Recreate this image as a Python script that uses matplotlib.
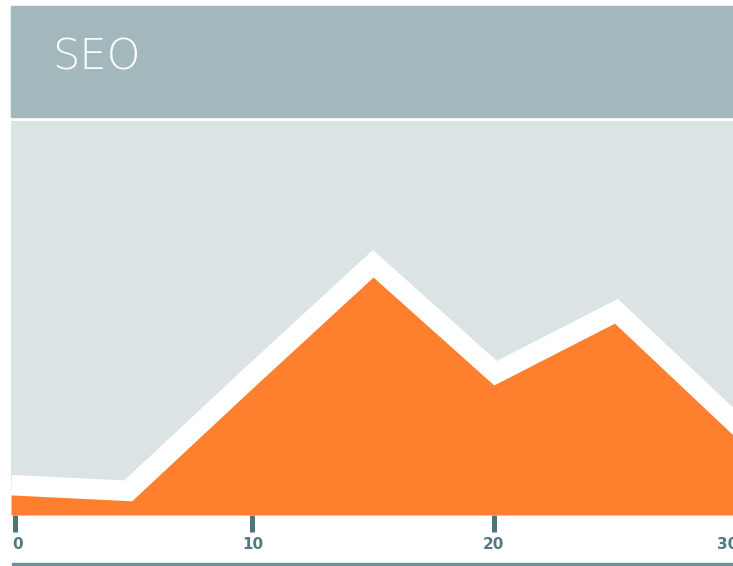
import matplotlib.pyplot as plt
import matplotlib.patches as mpatches
import matplotlib.transforms as mtrans

# data
days = [0, 5, 10, 15, 20, 25, 30]
seo = [5.1, 3.6, 32.2, 60.4, 33.0, 48.7, 19.8]
xticks = [0, 10, 20, 30]
title = 'SEO'

W, H = 733, 566
fig = plt.figure(figsize=(W / 100, H / 100), dpi=100)

# header band
fig.patches.append(mpatches.Rectangle((11 / W, (H - 117) / H), 1, 111 / H,
                                      transform=fig.transFigure, color='#a3b8bc', zorder=0))
fig.text(52 / W, (H - 57) / H, title, color='white', fontsize=31,
         va='center', ha='left', fontweight='light')

# bottom rule
fig.patches.append(mpatches.Rectangle((12 / W, (H - 565) / H), 1, 2 / H,
                                      transform=fig.transFigure, color='#6d8f95', zorder=0))

# plot area, runs past the right edge like the original
# 0 sits at about x=9 px (just left of the axes), 24.2 px per unit
ax = fig.add_axes([11 / W, (H - 515) / H, 750 / W, 394 / H])
ax.set_facecolor('#dce3e5')
ax.set_xlim(0.083, 31.07)
ax.set_ylim(0, 100)

# thick white stroke under the fill gives the halo above the area
ax.plot(days, seo, color='white', lw=28.8, solid_joinstyle='miter',
        solid_capstyle='butt', zorder=2)
ax.fill_between(days, seo, 0, color='#fe802f', lw=0, zorder=3)

for s in ax.spines.values():
    s.set_visible(False)
ax.set_yticks([])
ax.set_xticks(xticks)
ax.set_xticklabels([str(t) for t in xticks])
ax.tick_params(axis='x', direction='out', length=12, width=3.6, color='#4f7479',
               labelcolor='#527a80', labelsize=11, pad=4)

# tick 0 falls just outside the axes; nudge it and the end labels into view
ax.xaxis.get_major_ticks()[0].tick1line.set_transform(
    ax.xaxis.get_major_ticks()[0].tick1line.get_transform() +
    mtrans.ScaledTranslation(4 / 100, 0, fig.dpi_scale_trans))
shift = {'0': 7, '30': -8}
for lab in ax.get_xticklabels():
    lab.set_fontweight('bold')
    dx = shift.get(lab.get_text(), 0)
    if dx:
        lab.set_transform(lab.get_transform() +
                          mtrans.ScaledTranslation(dx / 100, 0, fig.dpi_scale_trans))

fig.savefig('out.png', dpi=100)
